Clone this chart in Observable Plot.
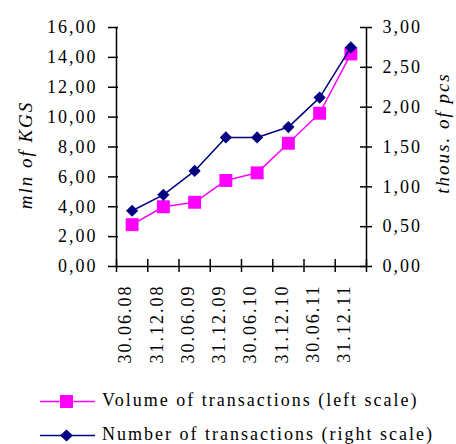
<!DOCTYPE html>
<html><head><meta charset="utf-8">
<script src="https://cdn.jsdelivr.net/npm/d3@7"></script>
<script src="https://cdn.jsdelivr.net/npm/@observablehq/plot@0.6"></script>
<style>
body{margin:0;background:#fff;font-family:"Liberation Serif","Times New Roman",Times,serif;}
#chart svg text{font-family:"Liberation Serif","Times New Roman",Times,serif;letter-spacing:2px;}
#legend{position:relative;height:69px;width:456px;font-size:18px;letter-spacing:2px;color:#000;}
.row{position:absolute;left:40px;height:16px;white-space:nowrap;}
.row svg{position:absolute;left:0;top:0}
.row span{position:absolute;left:62px;top:0;line-height:16px}
</style></head>
<body><div id="chart"></div><div id="legend"></div>
<script>
const categories = ["30.06.08","31.12.08","30.06.09","31.12.09","30.06.10","31.12.10","30.06.11","31.12.11"];
const volume = [2.8, 4.0, 4.3, 5.76, 6.27, 8.25, 10.26, 14.23];   // mln of KGS (left)
const number = [0.70, 0.90, 1.20, 1.62, 1.62, 1.75, 2.12, 2.75];   // thous. of pcs (right)
const leftTicks = [0,2,4,6,8,10,12,14,16];
const rightTicks = [0,0.5,1,1.5,2,2.5,3];
const leftMax = 16, rightMax = 3;
const leftTitle = "mln of KGS", rightTitle = "thous. of pcs";
const seriesNames = ["Volume of transactions (left scale)","Number of transactions (right scale)"];
const colors = ["#FF00FF","#000080"];

const k = leftMax/rightMax;
const fmt = d => d.toFixed(2).replace(".", ",");
const volData = categories.map((c,i)=>({i, v: volume[i]}));
const numData = categories.map((c,i)=>({i, v: number[i]}));

const plot = Plot.plot({
  width: 456, height: 375,
  marginTop: 27, marginBottom: 109, marginLeft: 116, marginRight: 90,
  style: {fontFamily: "'Liberation Serif', 'Times New Roman', serif", fontSize: "18px", color: "#000", background: "#fff"},
  x: {domain: [0, categories.length], axis: null},
  y: {domain: [0, leftMax], axis: null, label: null},
  marks: [
    // left axis
    Plot.axisY({ticks: leftTicks, tickSize: 0, tickPadding: 19, tickFormat: fmt, fontSize: 18, label: null}),
    Plot.tickY(leftTicks, {y: d=>d, insetLeft: -8, insetRight: 248, stroke: "#000", strokeWidth: 1.5}),
    Plot.ruleX([0], {stroke: "#000", strokeWidth: 1.5}),
    // right axis
    Plot.axisY({anchor: "right", ticks: rightTicks.map(d=>d*k), tickSize: 0, tickPadding: 16, tickFormat: d => fmt(d/k), fontSize: 18, label: null}),
    Plot.tickY(rightTicks, {y: d=>d*k, insetLeft: 244, insetRight: -6, stroke: "#000", strokeWidth: 1.5}),
    Plot.ruleX([categories.length], {stroke: "#000", strokeWidth: 1.5}),
    // x axis
    Plot.ruleY([0], {stroke: "#000", strokeWidth: 1.5}),
    Plot.tickX(d3.range(categories.length+1), {x: d=>d, insetTop: 232, insetBottom: -6, stroke: "#000", strokeWidth: 1.5}),
    Plot.text(categories, {x: (d,i)=>i+0.5, y: 0, text: d=>d, rotate: -90, textAnchor: "end", dx: -6.5, dy: 18, fontSize: 18}),
    // titles
    Plot.text([leftTitle], {frameAnchor: "left", textAnchor: "middle", dx: -91, dy: 8, rotate: -90, fontStyle: "italic", fontSize: 19}),
    Plot.text([rightTitle], {frameAnchor: "right", textAnchor: "middle", dx: 76, dy: -14, rotate: -90, fontStyle: "italic", fontSize: 19}),
    // series
    Plot.line(volData, {x: d=>d.i+0.5, y: "v", stroke: colors[0], strokeWidth: 1.5}),
    Plot.dot(volData, {x: d=>d.i+0.5, y: "v", symbol: "square", r: 7.3, fill: colors[0]}),
    Plot.line(numData, {x: d=>d.i+0.5, y: d=>d.v*k, stroke: colors[1], strokeWidth: 1.5}),
    Plot.dot(numData, {x: d=>d.i+0.5, y: d=>d.v*k, symbol: "diamond2", r: 5.5, fill: colors[1]})
  ]
});
document.getElementById("chart").appendChild(plot);

const leg = document.getElementById("legend");
const marker = [
  `<rect x="20" y="3" width="13" height="13" fill="${colors[0]}"/>`,
  `<path d="M26.5 3.5 L33 9.5 L26.5 15.5 L20 9.5 Z" fill="${colors[1]}"/>`
];
seriesNames.forEach((name, i) => {
  const row = document.createElement("div");
  row.className = "row";
  row.style.top = (17 + i*34) + "px";
  row.innerHTML = `<svg width="55" height="20"><line x1="0" x2="55" y1="9.5" y2="9.5" stroke="${colors[i]}" stroke-width="1.5"/>${marker[i]}</svg><span>${name}</span>`;
  leg.appendChild(row);
});
</script></body></html>
